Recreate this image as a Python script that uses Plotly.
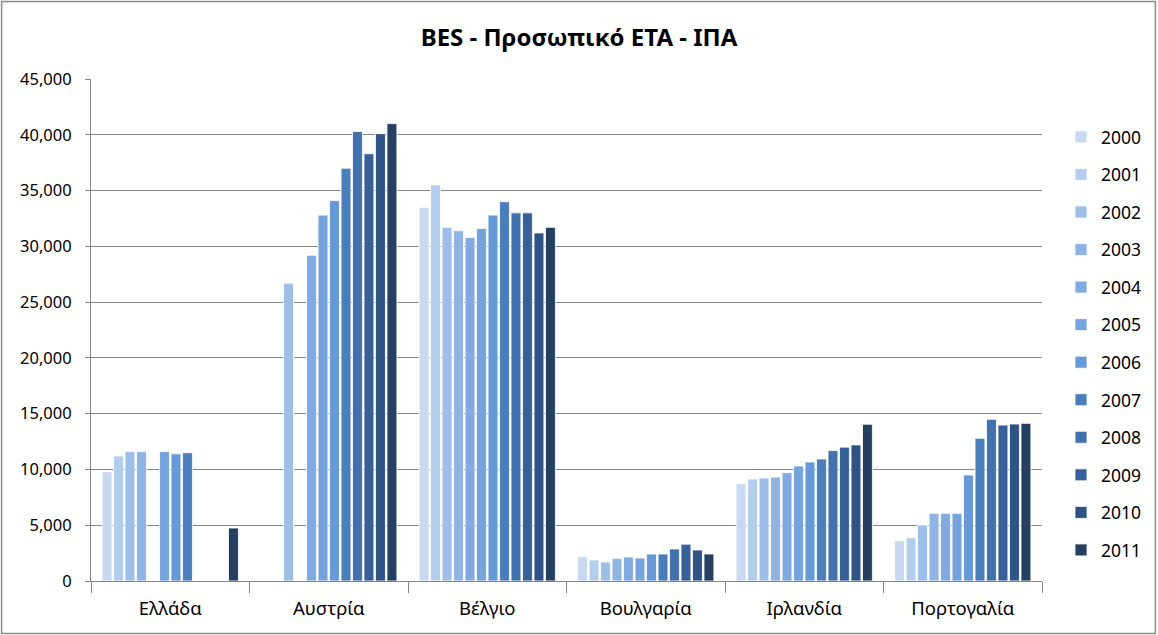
import plotly.graph_objects as go

countries = ["Ελλάδα", "Αυστρία", "Βέλγιο", "Βουλγαρία", "Ιρλανδία", "Πορτογαλία"]
years = ["2000", "2001", "2002", "2003", "2004", "2005", "2006", "2007", "2008", "2009", "2010", "2011"]

# values per year, in country order (None = no data)
v2000 = [9800, None, 33500, 2180, 8720, 3610]
v2001 = [11200, None, 35500, 1880, 9140, 3880]
v2002 = [11600, 26700, 31700, 1700, 9230, 5020]
v2003 = [11600, None, 31400, 2030, 9320, 6070]
v2004 = [None, 29200, 30800, 2150, 9710, 6070]
v2005 = [11600, 32800, 31600, 2060, 10300, 6070]
v2006 = [11400, 34100, 32800, 2420, 10670, 9500]
v2007 = [11500, 37000, 34000, 2420, 10940, 12800]
v2008 = [None, 40300, 33000, 2870, 11700, 14500]
v2009 = [None, 38300, 33000, 3300, 12000, 13980]
v2010 = [None, 40100, 31200, 2780, 12200, 14070]
v2011 = [4750, 41000, 31700, 2420, 14050, 14130]

series = [v2000, v2001, v2002, v2003, v2004, v2005, v2006, v2007, v2008, v2009, v2010, v2011]
colors = ["#C6D9F0", "#B3CEEC", "#9DBEE6", "#8FB3E3", "#80AAE0", "#74A3DD",
          "#6699D8", "#4A7EBB", "#4272AE", "#386098", "#2F5385", "#243F60"]

fig = go.Figure()
for i, (yr, vals) in enumerate(zip(years, series)):
    fig.add_trace(go.Bar(
        x=countries, y=vals, name=yr,
        marker=dict(color=colors[i], line=dict(color="white", width=0.8)),
        legendgroup=yr,
    ))

W, H = 1158, 635
ml, mr, mt, mb = 91, 115, 79, 54
pw, ph = W - ml - mr, H - mt - mb

def px(x):
    return (x - ml) / pw

def py(y):
    return (H - mb - y) / ph

fig.update_layout(
    width=W, height=H,
    margin=dict(l=ml, r=mr, t=mt, b=mb),
    paper_bgcolor="white", plot_bgcolor="white",
    barmode="group", bargap=0.13, bargroupgap=0.14,
    font=dict(family="Noto Sans, Open Sans, sans-serif", size=17, color="#000"),
    title=dict(text="<b>BES - Προσωπικό ΕΤΑ - ΙΠΑ</b>", x=0.5, xanchor="center",
               y=1 - 38 / H, yanchor="middle", font=dict(size=24)),
    legend=dict(x=px(1061), xanchor="left", y=py(119), yanchor="top",
                font=dict(size=17.5), tracegroupgap=11.8, itemwidth=30,
                bgcolor="rgba(0,0,0,0)"),
    showlegend=True,
    shapes=[dict(type="rect", xref="paper", yref="paper",
                 x0=px(1.5), x1=px(W - 1.5), y0=py(H - 1.5), y1=py(1.5),
                 line=dict(color="#8c8c8c", width=1.5), layer="below")],
)
fig.update_yaxes(range=[0, 45000], dtick=5000, tickformat=",", showgrid=True,
                 gridcolor="#868686", gridwidth=1, showline=True, linecolor="#868686",
                 ticks="outside", ticklen=5, tickcolor="#868686", zeroline=False,
                 tickfont=dict(size=16.5), ticklabelstandoff=10)
fig.update_xaxes(showline=True, linecolor="#868686", ticks="outside", tickson="boundaries",
                 ticklen=11, tickcolor="#868686", tickfont=dict(size=18.5),
                 ticklabelstandoff=11)

fig.write_html("out.html")
